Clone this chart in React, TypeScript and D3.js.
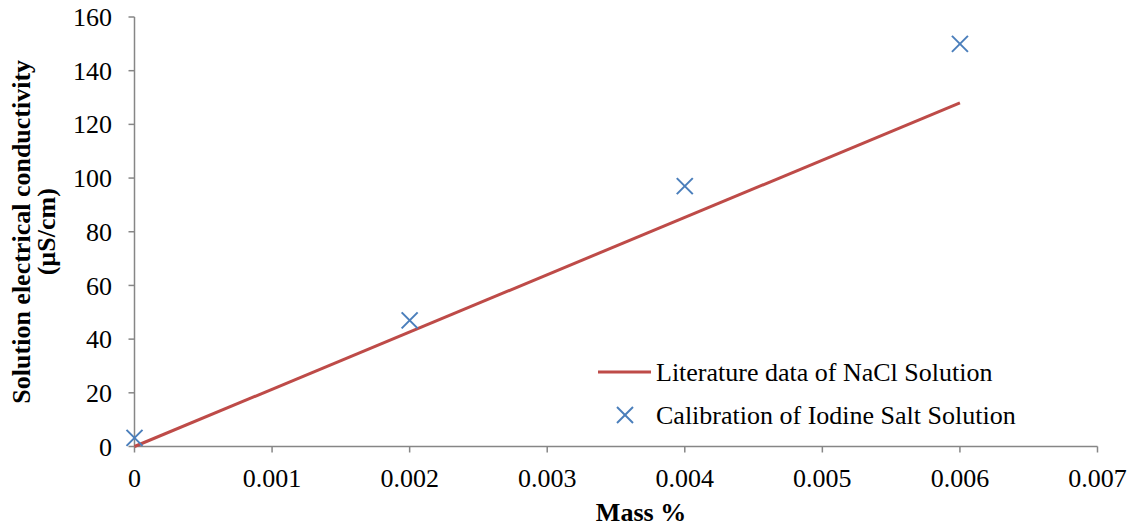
import React from "react";
import * as d3 from "d3";

const lineX = [0, 0.006];
const lineY = [0, 128];
const ptX = [0, 0.002, 0.004, 0.006];
const ptY = [3.2, 47, 97, 150];
const xTicks = [0, 0.001, 0.002, 0.003, 0.004, 0.005, 0.006, 0.007];
const xTickLabels = ["0", "0.001", "0.002", "0.003", "0.004", "0.005", "0.006", "0.007"];
const yTicks = [0, 20, 40, 60, 80, 100, 120, 140, 160];
const seriesNames = ["Literature data of NaCl Solution", "Calibration of Iodine Salt Solution"];

const W = 1136, H = 529;
const FONT = "'Liberation Serif', 'Times New Roman', serif";
const AX = "#868686";
const RED = "#BE4B48";
const BLUE = "#4A7EBB";
const FS = 26;

export default function App() {
  const x = d3.scaleLinear().domain([0, 0.007]).range([134.5, 1097.5]);
  const y = d3.scaleLinear().domain([0, 160]).range([446.5, 17]);
  const line = d3.line<number>().x((_, i) => x(lineX[i])).y((_, i) => y(lineY[i]));
  const m = 8;
  return (
    <svg width={W} height={H} style={{ position: "absolute", left: 0, top: 0, fontFamily: FONT }}>
      <rect width={W} height={H} fill="#fff" />
      {/* axes */}
      <line x1={x(0)} x2={x(0)} y1={y(160)} y2={y(0)} stroke={AX} strokeWidth={1.5} />
      <line x1={x(0)} x2={x(0.007)} y1={y(0)} y2={y(0)} stroke={AX} strokeWidth={1.5} />
      {yTicks.map((t) => (
        <g key={"y" + t}>
          <line x1={x(0) - 6} x2={x(0)} y1={y(t)} y2={y(t)} stroke={AX} strokeWidth={1.5} />
          <text x={112} y={y(t)} dy="0.35em" textAnchor="end" fontSize={FS}>{t}</text>
        </g>
      ))}
      {xTicks.map((t, i) => (
        <g key={"x" + i}>
          <line x1={x(t)} x2={x(t)} y1={y(0)} y2={y(0) + 6} stroke={AX} strokeWidth={1.5} />
          <text x={x(t)} y={487} textAnchor="middle" fontSize={FS}>{xTickLabels[i]}</text>
        </g>
      ))}
      {/* series */}
      <path d={line(lineX) || ""} fill="none" stroke={RED} strokeWidth={3} />
      {ptX.map((v, i) => (
        <g key={"p" + i} stroke={BLUE} strokeWidth={2}>
          <line x1={x(v) - m} x2={x(v) + m} y1={y(ptY[i]) - m} y2={y(ptY[i]) + m} />
          <line x1={x(v) - m} x2={x(v) + m} y1={y(ptY[i]) + m} y2={y(ptY[i]) - m} />
        </g>
      ))}
      {/* axis titles */}
      <text x={641} y={521} textAnchor="middle" fontSize={FS} fontWeight="bold">Mass %</text>
      <g transform={`translate(30, ${(y(0) + y(160)) / 2}) rotate(-90)`}>
        <text x={0} y={0} textAnchor="middle" fontSize={FS} fontWeight="bold">Solution electrical conductivity</text>
        <text x={0} y={25} textAnchor="middle" fontSize={FS} fontWeight="bold">(µS/cm)</text>
      </g>
      {/* legend */}
      <line x1={598} x2={651} y1={372} y2={372} stroke={RED} strokeWidth={3} />
      <text x={656} y={381} fontSize={FS}>{seriesNames[0]}</text>
      <g stroke={BLUE} strokeWidth={2}>
        <line x1={625 - m} x2={625 + m} y1={415 - m} y2={415 + m} />
        <line x1={625 - m} x2={625 + m} y1={415 + m} y2={415 - m} />
      </g>
      <text x={656} y={424} fontSize={FS}>{seriesNames[1]}</text>
    </svg>
  );
}
